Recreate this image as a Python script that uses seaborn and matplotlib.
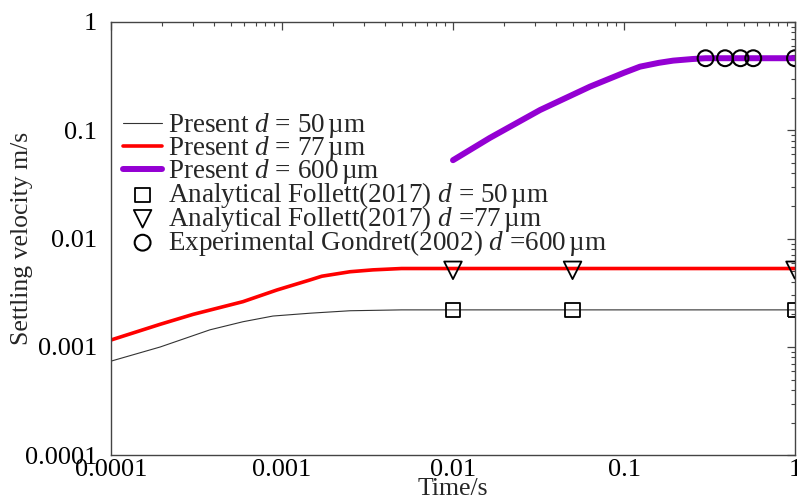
import matplotlib
matplotlib.use("Agg")
import matplotlib.pyplot as plt
import seaborn as sns
import pandas as pd

# ---- data ----
t50 = [1e-4, 1.94e-4, 3.79e-4, 5.91e-4, 8.85e-4, 1.46e-3, 2.5e-3, 5e-3, 1e-2, 1e-1, 1.0]
v50 = [7.4e-4, 1.0e-3, 1.44e-3, 1.71e-3, 1.93e-3, 2.05e-3, 2.16e-3, 2.2e-3, 2.2e-3, 2.2e-3, 2.2e-3]

t77 = [1e-4, 1.94e-4, 3.02e-4, 5.91e-4, 9.35e-4, 1.46e-3, 1.71e-3, 2.5e-3, 3.4e-3, 5e-3, 1e-2, 1e-1, 1.0]
v77 = [1.16e-3, 1.62e-3, 2.0e-3, 2.62e-3, 3.36e-3, 4.16e-3, 4.5e-3, 4.95e-3, 5.15e-3, 5.3e-3, 5.3e-3, 5.3e-3, 5.3e-3]

t600 = [1e-2, 1.64e-2, 3.23e-2, 6.32e-2, 0.1, 0.124, 0.16, 0.194, 0.25, 0.3, 0.5, 1.0]
v600 = [0.053, 0.085, 0.154, 0.253, 0.34, 0.387, 0.42, 0.44, 0.455, 0.463, 0.463, 0.463]

ta50 = [0.01, 0.05, 1.0]
va50 = [0.0022, 0.0022, 0.0022]
ta77 = [0.01, 0.05, 1.0]
va77 = [0.0051, 0.0051, 0.0051]
te600 = [0.3, 0.39, 0.48, 0.57, 1.0]
ve600 = [0.463, 0.463, 0.463, 0.463, 0.463]

labels = [
    r"Present $d$ = 50$\,$µm",
    r"Present $d$ = 77$\,$µm",
    r"Present $d$ = 600$\,$µm",
    r"Analytical Follett(2017) $d$ = 50$\,$µm",
    r"Analytical Follett(2017) $d$ =77$\,$µm",
    r"Experimental Gondret(2002) $d$ =600$\,$µm",
]

sns.set_theme(style="white")
plt.rcParams["font.family"] = ["Liberation Serif", "DejaVu Serif"]
plt.rcParams["mathtext.fontset"] = "custom"
plt.rcParams["mathtext.rm"] = "Liberation Serif"
plt.rcParams["mathtext.it"] = "Liberation Serif:italic"

fig = plt.figure(figsize=(7.97, 5.03), dpi=100)
ax = fig.add_axes([111 / 797, 1 - 455.3 / 503, 684 / 797, 433.3 / 503])

df50 = pd.DataFrame({"t": t50, "v": v50})
df77 = pd.DataFrame({"t": t77, "v": v77})
df600 = pd.DataFrame({"t": t600, "v": v600})

sns.lineplot(data=df50, x="t", y="v", ax=ax, color="#333333", lw=0.8, label=labels[0])
sns.lineplot(data=df77, x="t", y="v", ax=ax, color="#ff0000", lw=2.6, label=labels[1])
sns.lineplot(data=df600, x="t", y="v", ax=ax, color="#9400d3", lw=4.3, label=labels[2])

sns.scatterplot(x=ta50, y=va50, ax=ax, marker="s", s=110, facecolors="none",
                edgecolor="black", linewidth=1.3, label=labels[3], zorder=5)
sns.scatterplot(x=ta77, y=va77, ax=ax, marker="v", s=160, facecolors="none",
                edgecolor="black", linewidth=1.3, label=labels[4], zorder=5)
sns.scatterplot(x=te600, y=ve600, ax=ax, marker="o", s=130, facecolors="none",
                edgecolor="black", linewidth=1.5, label=labels[5], zorder=5)

ax.set_xscale("log")
ax.set_yscale("log")
ax.set_xlim(1e-4, 1)
ax.set_ylim(1e-4, 1)
ax.set_xticks([1e-4, 1e-3, 1e-2, 1e-1, 1])
ax.set_xticklabels(["0.0001", "0.001", "0.01", "0.1", "1"])
ax.set_yticks([1e-4, 1e-3, 1e-2, 1e-1, 1])
ax.set_yticklabels(["0.0001", "0.001", "0.01", "0.1", "1"])

for sp in ax.spines.values():
    sp.set_color("#444444")
    sp.set_linewidth(1.0)

ax.tick_params(which="both", direction="in", top=True, right=True, colors="#444444",
               labelcolor="black", labelsize=19)
ax.tick_params(which="major", length=6, width=0.9)
ax.tick_params(which="minor", length=3, width=0.8)
ax.tick_params(axis="x", which="major", pad=2.5)
ax.tick_params(axis="y", which="major", pad=10)

ax.set_xlabel("Time/s", fontsize=18.5, labelpad=-2)
ax.set_ylabel("Settling velocity m/s", fontsize=18.5)
ax.yaxis.set_label_coords(-0.114, 0.5)

leg = ax.legend(loc="upper left", bbox_to_anchor=(0.0175, 0.794), frameon=False,
                fontsize=19.5, labelspacing=-0.225, handlelength=1.45,
                handletextpad=0.22, borderaxespad=0, borderpad=0, scatterpoints=1)

fig.savefig("out.png", dpi=100)
